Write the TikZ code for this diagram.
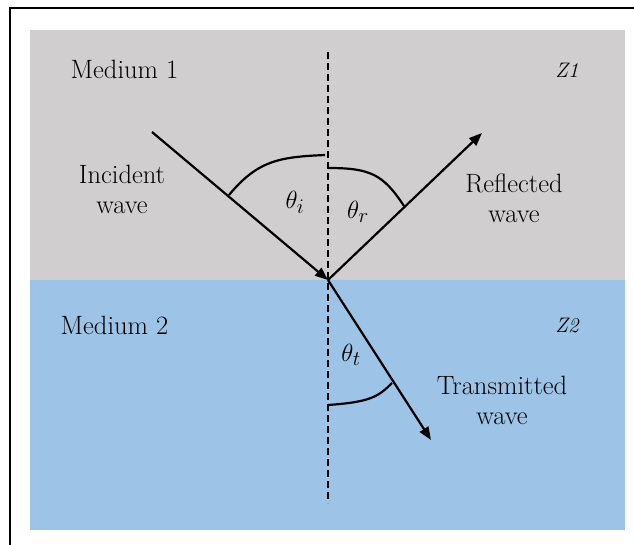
\documentclass[tikz,border=0pt]{standalone}
\usetikzlibrary{arrows.meta}
\definecolor{medgray}{RGB}{208,206,206}
\definecolor{medblue}{RGB}{157,195,230}
\begin{document}
\begin{tikzpicture}[x=1pt,y=-1pt,
  ray/.style={line width=2.2pt,-{Triangle[length=13pt,width=10pt]}},
  anglearc/.style={line width=2.2pt},
  lbl/.style={font=\fontsize{26.5}{30}\selectfont,align=center,inner sep=0pt},
  zlbl/.style={font=\fontsize{21}{24}\selectfont\itshape,inner sep=0pt},
  ang/.style={font=\fontsize{30}{34}\selectfont,inner sep=0pt}]
\useasboundingbox (0,0) rectangle (634,544);
\fill[white] (0,0) rectangle (634,544);
% frame
\draw[line width=2.4pt] (10,546) -- (10,8) -- (636,8);
% media
\fill[medgray] (30,30) rectangle (625,280);
\fill[medblue] (30,280) rectangle (625,530);
% normal
\coordinate (Ntop) at (328,52);
\coordinate (Nbot) at (328,503);
\draw[line width=2.2pt,dash pattern=on 7pt off 4pt] (Ntop) -- (Nbot);
% rays
\coordinate (O) at (328,280);
\coordinate (Istart) at (152,132);
\coordinate (Rend) at (482,133);
\coordinate (Tend) at (431,440);
\draw[ray] (Istart) -- (O);
\draw[ray] (O) -- (Rend);
\draw[ray] (O) -- (Tend);
% arcs
\coordinate (ai1) at (229,195);
\coordinate (ai2) at (325,155);
\draw[anglearc] (ai1) .. controls (258,160) and (280,157) .. (ai2);
\coordinate (ar1) at (328,168);
\coordinate (ar2) at (404,206);
\draw[anglearc] (ar1) .. controls (370,168) and (383,174) .. (ar2);
\coordinate (at1) at (328,405);
\coordinate (at2) at (392,383);
\draw[anglearc] (at1) .. controls (370,402) and (378,397) .. (at2);
% angle labels
\node[ang] (thi) at (295,202) {$\theta_i$};
\node[ang] (thr) at (358,212) {$\theta_r$};
\node[ang] (tht) at (351,355) {$\theta_t$};
% text labels
\node[lbl] (m1) at (124.5,69) {Medium 1};
\node[lbl] (m2) at (114.5,325) {Medium 2};
\node[zlbl] (z1) at (567,70) {Z1};
\node[zlbl] (z2) at (567,326) {Z2};
\node[lbl] (inc) at (122,189) {Incident\\wave};
\node[lbl] (ref) at (514,198) {Reflected\\wave};
\node[lbl] (tra) at (502,400) {Transmitted\\wave};
\end{tikzpicture}
\end{document}
